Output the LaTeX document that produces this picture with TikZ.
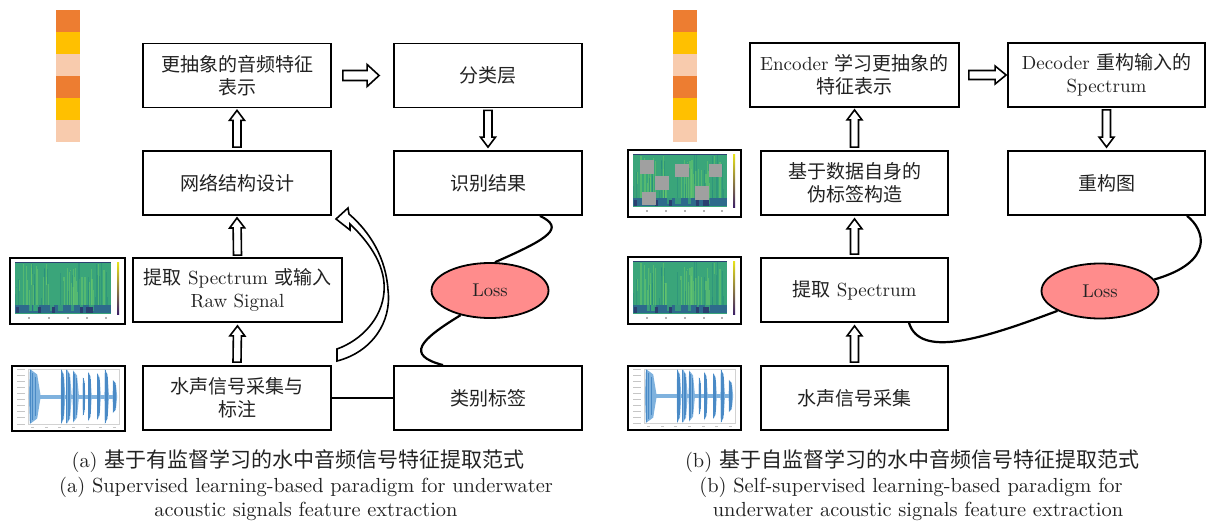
\documentclass[tikz,border=0pt]{standalone}
\usepackage{fontspec}
\setmainfont{lmroman10-regular.otf}
\newfontfamily\cjk{Noto Sans CJK SC}
\usetikzlibrary{calc,shapes.geometric}
\definecolor{orA}{HTML}{ED7D31}
\definecolor{yeA}{HTML}{FFC000}
\definecolor{peA}{HTML}{F8CBAD}
\definecolor{lossfill}{HTML}{FF8C8C}
\definecolor{vgreen}{HTML}{3AA57A}
\definecolor{vlight}{HTML}{6CCB6A}
\definecolor{vdgreen}{HTML}{24877E}
\definecolor{vblue}{HTML}{2E6A8C}
\definecolor{vdark}{HTML}{2B3F70}
\definecolor{cbtop}{HTML}{E8E419}
\definecolor{cbbot}{HTML}{3B1F66}
\definecolor{wblue}{HTML}{7FB2DE}
\definecolor{wdblue}{HTML}{4A8AC6}
\definecolor{maskgray}{HTML}{A0A0A0}
\definecolor{txt}{HTML}{222222}
\tikzset{
  box/.style={draw, line width=1.8pt, fill=white, minimum width=188pt, minimum height=64pt,
    inner sep=0pt, align=center, text=txt, font=\fontsize{19}{23}\selectfont},
  lossnode/.style={ellipse, draw, line width=1.8pt, fill=lossfill, minimum width=117pt,
    minimum height=55pt, inner sep=0pt, text=txt, font=\fontsize{18.5}{20}\selectfont},
  blockarr/.style={draw, line width=1.6pt, fill=white, line join=miter},
  wire/.style={line width=2.2pt},
  capt/.style={font=\fontsize{20.4}{25}\selectfont, inner sep=0pt, text=txt},
}
\newcommand\hollowarrow[5]{%
  \draw[blockarr] ($#1!#3!90:#2$) -- ($#2!#5!#1!#3!-90:#1$) -- ($#2!#5!#1!#4!-90:#1$) -- #2
   -- ($#2!#5!#1!#4!90:#1$) -- ($#2!#5!#1!#3!90:#1$) -- ($#1!#3!-90:#2$) -- cycle;}
\newcommand\spectro[4]{%
  \fill[white] (#1,#2) rectangle (#3,#4);
  \pgfmathsetmacro\pxa{#1+5}\pgfmathsetmacro\pxb{#3-14}%
  \pgfmathsetmacro\pya{#2+4}\pgfmathsetmacro\pyb{#4-10}%
  \fill[vgreen] (\pxa,\pya) rectangle (\pxb,\pyb);
  \pgfmathsetseed{11}%
  \foreach \k in {1,...,40}{%
    \pgfmathsetmacro\rsX{\pxa+rnd*(\pxb-\pxa-2)}%
    \pgfmathsetmacro\rsY{\pya+rnd*(\pyb-\pya)*0.6}%
    \fill[vlight,opacity=0.55] (\rsX,\rsY) rectangle ({\rsX+1.3},{\pyb-8});
  }
  \foreach \k in {1,...,30}{%
    \pgfmathsetmacro\rsX{\pxa+rnd*(\pxb-\pxa-2)}%
    \pgfmathsetmacro\rsY{\pya+rnd*(\pyb-\pya)*0.7}%
    \fill[vdgreen,opacity=0.45] (\rsX,\rsY) rectangle ({\rsX+1},{\pyb-8});
  }
  \fill[vblue] (\pxa,{\pyb-9}) rectangle (\pxb,{\pyb-1});
  \foreach \k in {1,...,14}{%
    \pgfmathsetmacro\rsX{\pxa+rnd*(\pxb-\pxa-4)}%
    \fill[vgreen,opacity=0.8] (\rsX,{\pyb-9}) rectangle ({\rsX+2.5},{\pyb-3});
  }
  \foreach \k in {1,...,8}{%
    \pgfmathsetmacro\rsX{\pxa+rnd*(\pxb-\pxa-4)}%
    \fill[vdark] (\rsX,{\pyb-7}) rectangle ({\rsX+3},{\pyb-1});
  }
  \draw[vdark, line width=1pt] (\pxa,\pya) -- (\pxb,\pya);
  \shade[top color=cbtop, bottom color=cbbot] ({\pxb+6},\pya) rectangle ({\pxb+8},\pyb);
  \foreach \t in {0.15,0.35,0.55,0.75,0.95}{%
    \pgfmathsetmacro\rsX{\pxa+\t*(\pxb-\pxa)}%
    \fill[gray!60] ({\rsX-1},{\pyb+3}) rectangle ({\rsX+1},{\pyb+5});
  }
  \draw[line width=1.8pt] (#1,#2) rectangle (#3,#4);
}
\newcommand\wave[4]{%
  \fill[white] (#1,#2) rectangle (#3,#4);
  \pgfmathsetmacro\wxa{#1+16}\pgfmathsetmacro\wxb{#3-6}%
  \pgfmathsetmacro\wya{#2+3}\pgfmathsetmacro\wyb{#4-7}%
  \pgfmathsetmacro\wym{(\wya+\wyb)/2}%
  \pgfmathsetmacro\wh{(\wyb-\wya)/2}%
  \draw[gray!35, line width=0.5pt] (\wxa,\wya) rectangle (\wxb,\wyb);
  \foreach \t in {0,...,9}{%
    \pgfmathsetmacro\rsY{\wya+\t*\wh/4.5}%
    \fill[gray!45] ({#1+5},{\rsY-0.5}) rectangle ({#1+13},{\rsY+0.5});
  }
  \foreach \t in {0.05,0.2,0.35,0.5,0.65,0.8,0.95}{%
    \pgfmathsetmacro\rsX{\wxa+\t*(\wxb-\wxa)}%
    \fill[gray!45] ({\rsX-1.5},{\wyb+2.5}) rectangle ({\rsX+1.5},{\wyb+4});
  }
  \fill[wblue] ({\wxa+2},{\wym-2}) rectangle ({\wxb-3},{\wym+2});
  \foreach \a/\b/\m in {0.01/0.14/1, 0.36/0.41/1, 0.42/0.48/1, 0.49/0.56/0.95, 0.60/0.63/0.7,
     0.66/0.70/0.9, 0.76/0.80/0.85, 0.84/0.89/1, 0.93/0.98/0.6}{%
    \pgfmathsetmacro\wbA{\wxa+\a*(\wxb-\wxa)}%
    \pgfmathsetmacro\wbB{\wxa+\b*(\wxb-\wxa)}%
    \pgfmathsetmacro\wbH{\m*\wh}%
    \pgfmathsetmacro\wbP{\wbA+0.08*(\wbB-\wbA)}%
    \pgfmathsetmacro\wbQ{\wbA+0.7*(\wbB-\wbA)}%
    \pgfmathsetmacro\wbR{\wbA+0.3*(\wbB-\wbA)}%
    \pgfmathsetmacro\wbS{\wbA+0.55*(\wbB-\wbA)}%
    \fill[wblue] (\wbA,\wym) -- (\wbP,{\wym-\wbH}) -- (\wbQ,{\wym-0.8*\wbH})
      -- (\wbB,\wym) -- (\wbQ,{\wym+0.8*\wbH}) -- (\wbP,{\wym+\wbH}) -- cycle;
    \draw[wdblue, line width=0.5pt] (\wbP,{\wym-0.95*\wbH}) -- (\wbP,{\wym+0.95*\wbH})
      (\wbR,{\wym-0.85*\wbH}) -- (\wbR,{\wym+0.85*\wbH})
      (\wbS,{\wym-0.7*\wbH}) -- (\wbS,{\wym+0.7*\wbH});
  }
  \draw[line width=1.8pt] (#1,#2) rectangle (#3,#4);
}
\begin{document}
\begin{tikzpicture}[x=1pt,y=-1pt]
\useasboundingbox (0,0) rectangle (1207,522);
% colour strips
\foreach \c [count=\i from 0] in {orA,yeA,peA,orA,yeA,peA}{
  \fill[\c] (56,{10+\i*22}) rectangle (80,{32+\i*22});
  \fill[\c] (673,{10+\i*22}) rectangle (697,{32+\i*22});
}
% images left
\spectro{10}{258}{125}{324}
\wave{12}{366}{125}{431}
% images right
\spectro{628}{150}{741}{217}
\foreach \sx/\sy in {640/160, 675/163.5, 708.5/163.5, 655/176, 695/186, 642/191.5}{
  \fill[maskgray] (\sx,\sy) rectangle ({\sx+13.5},{\sy+13.5});
}
\spectro{628}{257}{741}{324}
\wave{628}{366}{741}{430}

% left boxes
\node[box] (L1) at (237,75.5) {{\cjk 更抽象的音频特征}\\{\cjk 表示}};
\node[box] (L2) at (488,75.5) {{\cjk 分类层}};
\node[box] (L3) at (237,183) {{\cjk 网络结构设计}};
\node[box] (L4) at (488,183) {{\cjk 识别结果}};
\node[box, minimum width=209pt] (L5) at (237.5,290) {{\cjk 提取} Spectrum {\cjk 或输入}\\Raw Signal};
\node[box] (L6) at (237,398) {{\cjk 水声信号采集与}\\{\cjk 标注}};
\node[box] (L7) at (488,398) {{\cjk 类别标签}};
\node[lossnode] (LossL) at (490,290.5) {Loss};

% right boxes
\node[box, minimum width=209pt] (R1) at (854.5,75) {Encoder {\cjk 学习更抽象的}\\{\cjk 特征表示}};
\node[box, minimum width=197pt] (R2) at (1106.5,75) {Decoder {\cjk 重构输入的}\\Spectrum};
\node[box, minimum width=187pt] (R3) at (854.5,183) {{\cjk 基于数据自身的}\\{\cjk 伪标签构造}};
\node[box, minimum width=197pt] (R4) at (1106.5,183) {{\cjk 重构图}};
\node[box, minimum width=187pt] (R5) at (854.5,290) {{\cjk 提取} Spectrum};
\node[box, minimum width=187pt] (R6) at (854.5,398) {{\cjk 水声信号采集}};
\node[lossnode] (LossR) at (1100,291) {Loss};

% block arrows left
\hollowarrow{([xshift=11pt]L1.east)}{([xshift=-14pt]L2.west)}{5pt}{11pt}{12pt}
\hollowarrow{([yshift=3pt]L3.north)}{([yshift=-2pt]L1.south)}{4pt}{7.5pt}{10pt}
\hollowarrow{([yshift=2pt]L5.north)}{([yshift=-2pt]L3.south)}{4pt}{7.5pt}{10pt}
\hollowarrow{([yshift=3pt]L6.north)}{([yshift=-3pt]L5.south)}{4pt}{7.5pt}{10pt}
\hollowarrow{([yshift=-2pt]L2.south)}{([yshift=3pt]L4.north)}{4pt}{7.5pt}{10pt}
% block arrows right
\hollowarrow{([xshift=9pt]R1.east)}{([xshift=-1pt]R2.west)}{4.5pt}{9pt}{11pt}
\hollowarrow{([yshift=3pt]R3.north)}{([yshift=-2pt]R1.south)}{4pt}{7.5pt}{10pt}
\hollowarrow{([yshift=3pt]R5.north)}{([yshift=-3pt]R3.south)}{4pt}{7.5pt}{10pt}
\hollowarrow{([yshift=3pt]R6.north)}{([yshift=-3pt]R5.south)}{4pt}{7.5pt}{10pt}
\hollowarrow{([yshift=-2pt]R2.south)}{([yshift=3pt]R4.north)}{4pt}{7.5pt}{10pt}

% curved feedback arrow (left)
\draw[blockarr] (349,214) -- (348,208) -- (336,219) -- (350,230) -- (350,224)
  .. controls (372,245) and (386,268) .. (384,292)
  .. controls (382,318) and (362,340) .. (337,349) -- (337,361)
  .. controls (372,352) and (392,322) .. (388,290)
  .. controls (386,258) and (370,232) .. (349,214) -- cycle;

% connectors
\draw[wire] (L6.east) -- (L7.west);
\draw[wire] ([xshift=52pt]L4.south) .. controls (565,228) and (550,238) .. (LossL.80);
\draw[wire] (LossL.220) .. controls (420,340) and (405,355) .. ([xshift=-45pt]L7.north);
\draw[wire] ([xshift=80.5pt]R4.south) .. controls (1205,230) and (1215,262) .. (LossR.12);
\draw[wire] ([xshift=54.5pt]R5.south) .. controls (920,358) and (980,340) .. (LossR.205);

% captions
\node[capt] (capA1) at (298,461) {(a) {\cjk\fontsize{21}{25}\selectfont 基于有监督学习的水中音频信号特征提取范式}};
\node[capt] (capA2) at (306,487) {(a) Supervised learning-based paradigm for underwater};
\node[capt] (capA3) at (306,511) {acoustic signals feature extraction};
\node[capt] (capB1) at (912,461) {(b) {\cjk\fontsize{21}{25}\selectfont 基于自监督学习的水中音频信号特征提取范式}};
\node[capt] (capB2) at (911,487) {(b) Self-supervised learning-based paradigm for};
\node[capt] (capB3) at (918,511) {underwater acoustic signals feature extraction};
\end{tikzpicture}
\end{document}
